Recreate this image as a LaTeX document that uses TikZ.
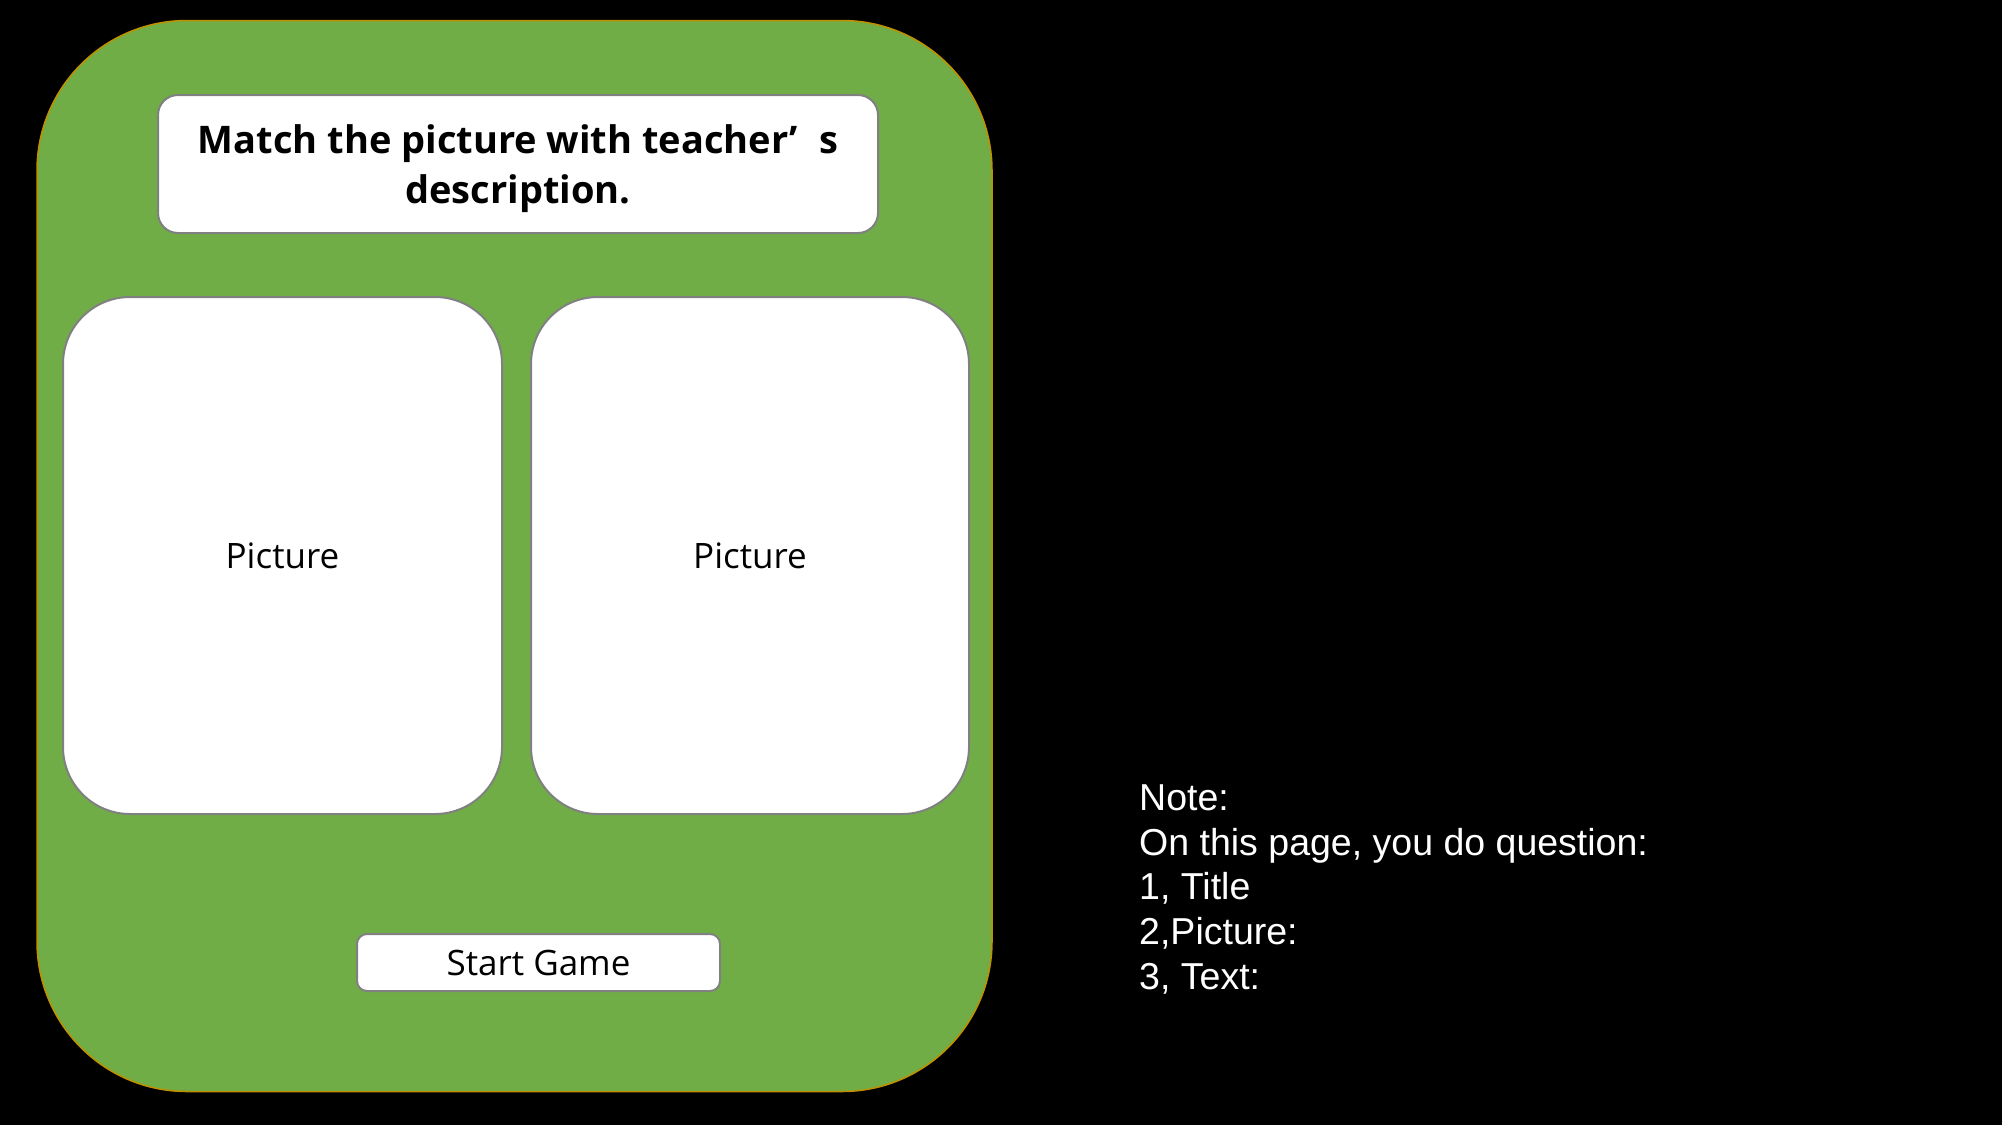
\documentclass[tikz,border=0pt]{standalone}
\usepackage{fontspec}
\setmainfont{Open Sans}
\newfontfamily\notefont{Liberation Sans}
\definecolor{panelgreen}{RGB}{112,173,71}
\definecolor{panelline}{RGB}{191,144,0}
\definecolor{boxline}{RGB}{128,128,128}
\begin{document}
\begin{tikzpicture}[x=1pt,y=-1pt,
  card/.style={draw=boxline, line width=2pt, fill=white, inner sep=0pt, align=center, text=black},
  notetext/.style={anchor=base west, inner sep=0pt, text=white, font=\notefont\fontsize{37.5}{44.7}\selectfont}]
\fill[black] (0,0) rectangle (2002,1125);
\useasboundingbox (0,0) rectangle (2002,1125);
\node[draw=panelline, line width=1.5pt, fill=panelgreen, rounded corners=150pt,
  minimum width=955pt, minimum height=1071pt, inner sep=0pt] (panel) at (514.5,556) {};
\node[card, rounded corners=20pt, minimum width=720pt, minimum height=138pt] (title) at (518,164) {};
\node[inner sep=0pt, align=center, font=\bfseries\fontsize{38}{50}\selectfont] (titletext) at (518,169)
  {Match the picture with teacher’\hspace{0.55em}s\\description.};
\node[card, rounded corners=67pt, minimum width=439pt, minimum height=517pt,
  font=\fontsize{35}{42}\selectfont] (picL) at (282.5,555.5) {Picture};
\node[card, rounded corners=67pt, minimum width=438pt, minimum height=517pt,
  font=\fontsize{35}{42}\selectfont] (picR) at (750,555.5) {Picture};
\node[card, rounded corners=10pt, minimum width=363pt, minimum height=57pt,
  font=\fontsize{35}{42}\selectfont] (start) at (538.5,962.5) {Start Game};
\node[notetext] (note1) at (1139,810.3) {Note:};
\node[notetext] (note2) at (1139,855) {On this page, you do question:};
\node[notetext] (note3) at (1139,899.7) {1, Title};
\node[notetext] (note4) at (1139,944.4) {2,Picture:};
\node[notetext] (note5) at (1139,989.1) {3, Text:};
\end{tikzpicture}
\end{document}
